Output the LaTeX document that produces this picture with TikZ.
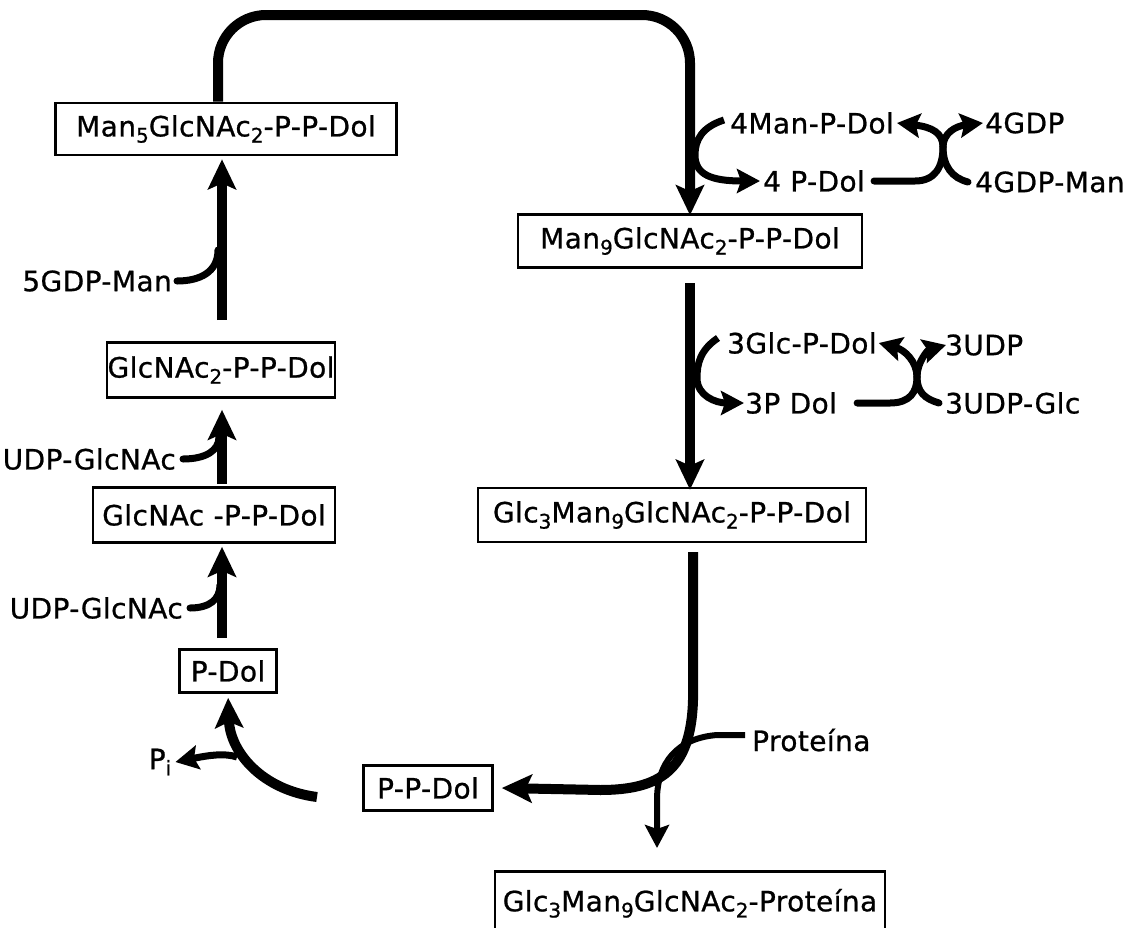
\documentclass[tikz,border=0pt]{standalone}
\usepackage{fontspec}
\setmainfont{DejaVu Sans}[FakeBold=0.8, LetterSpace=1.5]
\usetikzlibrary{arrows.meta}
\newcommand\sbs[1]{\raisebox{-0.4ex}{\fontsize{20}{20}\selectfont #1}}
\begin{document}
\begin{tikzpicture}[x=1pt,y=-1pt,
 box/.style={draw, line width=2.6pt, inner sep=0pt, font=\fontsize{28}{30}\selectfont},
 lab/.style={inner sep=0pt, font=\fontsize{28}{30}\selectfont},
 main/.style={line width=10pt, -{Stealth[length=30pt,width=28pt,inset=6pt]}},
 side/.style={line width=7pt, line cap=round},
 sidearr/.style={line width=7pt, -{Stealth[length=23pt,width=24pt,inset=4pt]}},
]
\useasboundingbox[fill=white] (0,0) rectangle (1130,927);

% boxes
\node[box, minimum width=341, minimum height=52] (man5) at (226,129) {Man\sbs5GlcNAc\sbs2-P-P-Dol};
\node[box, minimum width=344, minimum height=53] (man9) at (690,241) {Man\sbs9GlcNAc\sbs2-P-P-Dol};
\node[box, minimum width=388, minimum height=54] (glc3) at (672,515) {Glc\sbs3Man\sbs9GlcNAc\sbs2-P-P-Dol};
\node[box, minimum width=228, minimum height=55] (glcnac2) at (221,370) {GlcNAc\sbs2-P-P-Dol};
\node[box, minimum width=242, minimum height=55] (glcnac) at (214,515) {GlcNAc -P-P-Dol};
\node[box, minimum width=97, minimum height=43] (pdol) at (228,671) {P-Dol};
\node[box, minimum width=129, minimum height=45] (ppdol) at (428,788) {P-P-Dol};
\node[box, minimum width=390, minimum height=64, anchor=north] (final) at (690,870) {Glc\sbs3Man\sbs9GlcNAc\sbs2-Proteína};

% labels
\node[lab, anchor=east] (gdpman5) at (172,281) {5GDP-Man};
\node[lab, anchor=east] (udp1) at (176,459) {UDP-GlcNAc};
\node[lab, anchor=east] (udp2) at (183,608) {UDP-GlcNAc};
\node[lab] (pi) at (160,762) {P\sbs{i}};
\node[lab, anchor=west] (mpd) at (730,123) {4Man-P-Dol};
\node[lab, anchor=west] (pd4) at (763,181) {4 P-Dol};
\node[lab, anchor=west] (gdp4) at (985,123) {4GDP};
\node[lab, anchor=west] (gdpm4) at (975,182) {4GDP-Man};
\node[lab, anchor=west] (gpd) at (727,343) {3Glc-P-Dol};
\node[lab, anchor=west] (pd3) at (745,403) {3P Dol};
\node[lab, anchor=west] (udp3) at (945,345) {3UDP};
\node[lab, anchor=west] (udpg3) at (945,403) {3UDP-Glc};
\node[lab, anchor=west] (prot) at (752,740) {Proteína};

% junction coordinates
\coordinate (x1) at (943,147);
\coordinate (x2) at (917,377);
\coordinate (pj) at (237,757);

% main loop
\draw[main, rounded corners=48] ([xshift=-8pt]man5.north) -- (218,15) -- (690,15) -- ([yshift=-2pt]man9.north);
\draw[main] (690,283) -- ([yshift=-3pt]glc3.north -| 690,0);
\draw[line width=10pt] (693,552) -- (693,700) .. controls (691,770) and (660,790) .. (600,790);
\draw[main] (601,790) -- ([xshift=8pt]ppdol.east);
\draw[sidearr, line width=6pt, shorten >=22pt] (prot.west) ++(-7,-5) -- (717,735) .. controls (678,738) and (657,762) .. (657,800) -- (final.north -| 657,0);

% left column
\draw[main, shorten >=3pt] (222,320) -- (man5.south -| 222,0);
\draw[main, shorten >=11pt] (222,484) -- (glcnac2.south -| 222,0);
\draw[main, shorten >=3pt] (222,638) -- (glcnac.south -| 222,0);
\draw[main, shorten >=4pt] (317,797) .. controls (262,790) and (230,752) .. (pdol.south);
\draw[sidearr] (pj) .. controls (225,753) and (210,755) .. ([xshift=4pt]pi.east);
\draw[side] ([xshift=5pt]gdpman5.east) .. controls (200,281) and (218,272) .. (218,250);
\draw[side] ([xshift=7pt]udp1.east) .. controls (205,459) and (219,451) .. (219,437);
\draw[side] ([xshift=7pt]udp2.east) .. controls (210,608) and (220,599) .. (220,585);

% right reactions, first set
\draw[sidearr] ([xshift=-6pt,yshift=3pt]mpd.west) .. controls (702,127) and (695,140) .. (695,155) .. controls (695,175) and (712,181) .. ([xshift=-3pt]pd4.west);
\draw[side] ([xshift=9pt]pd4.east) -- (915,181) .. controls (935,181) and (943,167) .. (x1);
\draw[side] ([xshift=-7pt]gdpm4.west) .. controls (952,178) and (943,166) .. (x1);
\draw[sidearr] (x1) .. controls (943,133) and (932,127) .. ([xshift=3pt]mpd.east);
\draw[sidearr] (x1) .. controls (943,133) and (956,126) .. ([xshift=-2pt]gdp4.west);

% right reactions, second set
\draw[sidearr] ([xshift=-9pt,yshift=5pt]gpd.west) .. controls (700,350) and (697,364) .. (697,378) .. controls (697,396) and (716,403) .. ([xshift=-1pt]pd3.west);
\draw[side] ([xshift=20pt]pd3.east) -- (890,403) .. controls (910,403) and (917,392) .. (x2);
\draw[side] ([xshift=-6pt]udpg3.west) .. controls (925,399) and (917,392) .. (x2);
\draw[sidearr] (x2) .. controls (917,362) and (905,350) .. ([xshift=2pt]gpd.east);
\draw[sidearr] (x2) .. controls (917,362) and (928,350) .. ([xshift=1pt]udp3.west);
\end{tikzpicture}
\end{document}
